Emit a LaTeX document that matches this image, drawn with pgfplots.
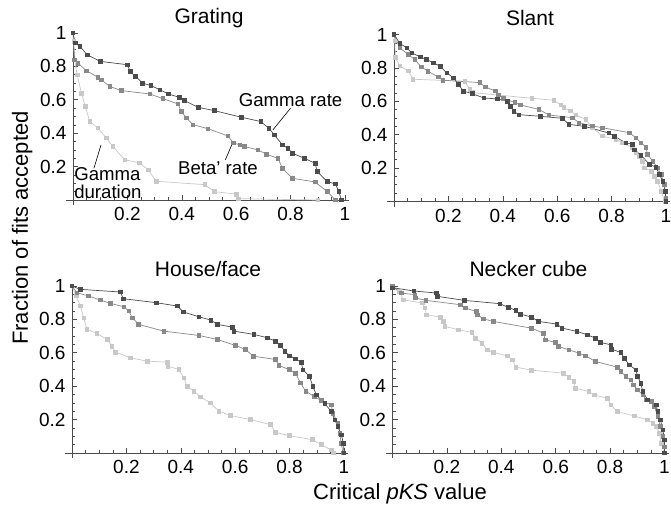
\documentclass[border=0pt]{standalone}
\usepackage{pgfplots}
\pgfplotsset{compat=1.18}
\usepackage{fontspec}
\setmainfont{Liberation Sans}
\definecolor{clrdark}{HTML}{4C4C4C}
\definecolor{clrmid}{HTML}{898989}
\definecolor{clrlight}{HTML}{C8C8C8}
\pgfplotsset{
  panel/.style={
    axis lines=middle,
    axis line style={-, black!70, line width=0.7pt},
    x=272pt, y=167pt,
    xmin=-0.025, xmax=1.015, ymin=-0.03, ymax=1.0,
    xtick={0.2,0.4,0.6,0.8,1}, ytick={0.2,0.4,0.6,0.8,1},
    minor xtick={0.05,0.1,0.15,0.25,0.3,0.35,0.45,0.5,0.55,0.65,0.7,0.75,0.85,0.9,0.95},
    minor ytick={0.05,0.1,0.15,0.25,0.3,0.35,0.45,0.5,0.55,0.65,0.7,0.75,0.85,0.9,0.95},
    major tick length=5pt, minor tick length=3pt,
    tick align=inside,
    tick style={black!70, line width=0.6pt},
    /pgf/number format/assume math mode=true,
    tick label style={font=\fontsize{19}{22}\selectfont},
    xticklabel style={anchor=north, yshift=-1pt},
    yticklabel style={anchor=east, xshift=0pt},
    clip=false,
    anchor=origin,
  },
  gd/.style={color=clrdark, line width=0.7pt, mark=square*, mark size=1.8pt, mark options={solid}},
  gm/.style={color=clrmid, line width=0.7pt, mark=square*, mark size=1.8pt, mark options={solid}},
  gl/.style={color=clrlight, line width=0.7pt, mark=square*, mark size=1.8pt, mark options={solid}},
}
\tikzset{
  ttl/.style={anchor=base, yshift=9pt, font=\fontsize{21}{24}\selectfont},
  ann/.style={font=\fontsize{18.6}{17.5}\selectfont},
}
\begin{document}
\fontsize{19}{22}\selectfont
\begin{tikzpicture}
\path[use as bounding box] (0pt,0pt) rectangle (671pt,505pt);

% ---------------- Grating ----------------
\begin{axis}[panel, at={(73pt,305pt)}]
\addplot[gl] coordinates {(0,1) (0.003,0.95) (0.006,0.84) (0.015,0.75) (0.031,0.64) (0.045,0.56) (0.062,0.47) (0.092,0.431) (0.122,0.371) (0.147,0.32) (0.19,0.241) (0.245,0.222) (0.276,0.181) (0.306,0.112) (0.484,0.092) (0.52,0.05) (0.60,0.035) (0.607,0.008) (0.90,0)};
\addplot[gm] coordinates {(0,1) (0.006,0.84) (0.018,0.82) (0.049,0.774) (0.092,0.735) (0.104,0.72) (0.135,0.68) (0.178,0.655) (0.282,0.635) (0.331,0.607) (0.386,0.575) (0.398,0.531) (0.417,0.491) (0.441,0.451) (0.496,0.427) (0.57,0.383) (0.589,0.343) (0.613,0.33) (0.63,0.32) (0.68,0.30) (0.71,0.275) (0.753,0.25) (0.77,0.19) (0.807,0.13) (0.89,0.108) (0.935,0.05) (0.965,0)};
\addplot[gd] coordinates {(0,1) (0.008,0.94) (0.025,0.92) (0.052,0.87) (0.10,0.83) (0.20,0.81) (0.21,0.77) (0.23,0.74) (0.256,0.70) (0.286,0.685) (0.32,0.66) (0.35,0.635) (0.39,0.615) (0.41,0.595) (0.46,0.555) (0.52,0.535) (0.62,0.495) (0.69,0.47) (0.72,0.43) (0.74,0.39) (0.77,0.33) (0.79,0.31) (0.807,0.28) (0.85,0.25) (0.89,0.22) (0.898,0.17) (0.935,0.11) (0.965,0.096) (0.977,0.05) (0.987,0)};
\node[ttl] at (axis cs:0.5,1) {Grating};
\node[ann] at (axis cs:0.80,0.60) {Gamma rate};
\draw[black, line width=0.6pt] (axis cs:0.80,0.55) -- (axis cs:0.735,0.42);
\node[ann] at (axis cs:0.533,0.188) {Beta' rate};
\draw[black, line width=0.6pt] (axis cs:0.56,0.24) -- (axis cs:0.585,0.335);
\node[ann, anchor=west, align=left, inner sep=0pt] at (axis cs:0.004,0.10) {Gamma\\duration};
\draw[black, line width=0.6pt] (axis cs:0.077,0.19) -- (axis cs:0.103,0.33);
\end{axis}

% ---------------- Slant ----------------
\begin{axis}[panel, at={(394pt,303.5pt)}]
\addplot[gl] coordinates {(0,1) (0.003,0.962) (0.005,0.862) (0.021,0.812) (0.052,0.782) (0.07,0.732) (0.26,0.72) (0.279,0.672) (0.29,0.652) (0.507,0.618) (0.588,0.606) (0.613,0.578) (0.625,0.562) (0.649,0.542) (0.668,0.518) (0.705,0.492) (0.729,0.442) (0.766,0.392) (0.815,0.372) (0.84,0.352) (0.877,0.322) (0.889,0.292) (0.901,0.272) (0.914,0.242) (0.92,0.202) (0.945,0.182) (0.957,0.152) (0.969,0.122) (0.982,0.062) (0.995,0)};
\addplot[gm] coordinates {(0,1) (0.021,0.92) (0.052,0.88) (0.076,0.85) (0.10,0.806) (0.125,0.78) (0.162,0.746) (0.18,0.726) (0.316,0.712) (0.335,0.686) (0.372,0.662) (0.384,0.638) (0.402,0.618) (0.445,0.592) (0.464,0.578) (0.532,0.552) (0.569,0.518) (0.656,0.502) (0.68,0.472) (0.729,0.452) (0.766,0.442) (0.865,0.412) (0.889,0.382) (0.908,0.352) (0.926,0.326) (0.932,0.282) (0.951,0.242) (0.969,0.202) (0.982,0.162) (0.994,0.102) (1.0,0.02) (1.0,0)};
\addplot[gd] coordinates {(0,1) (0.022,0.946) (0.047,0.92) (0.065,0.89) (0.096,0.866) (0.12,0.85) (0.145,0.83) (0.17,0.81) (0.194,0.77) (0.219,0.74) (0.237,0.70) (0.256,0.66) (0.287,0.646) (0.33,0.62) (0.38,0.614) (0.416,0.60) (0.428,0.57) (0.44,0.54) (0.459,0.52) (0.539,0.51) (0.619,0.498) (0.643,0.462) (0.70,0.45) (0.79,0.41) (0.81,0.39) (0.852,0.352) (0.877,0.342) (0.883,0.31) (0.908,0.278) (0.939,0.222) (0.963,0.206) (0.976,0.162) (0.988,0.122) (0.997,0.062) (1.0,0)};
\node[ttl] at (axis cs:0.5,1) {Slant};
\end{axis}

% ---------------- House/face ----------------
\begin{axis}[panel, at={(72pt,52pt)}]
\addplot[gl] coordinates {(0,1) (0.015,0.94) (0.031,0.88) (0.043,0.81) (0.055,0.74) (0.092,0.716) (0.129,0.68) (0.147,0.64) (0.16,0.604) (0.215,0.57) (0.276,0.55) (0.35,0.544) (0.352,0.52) (0.393,0.50) (0.411,0.45) (0.423,0.40) (0.448,0.37) (0.472,0.336) (0.509,0.30) (0.54,0.25) (0.583,0.224) (0.656,0.20) (0.73,0.17) (0.748,0.124) (0.798,0.104) (0.883,0.08) (0.916,0.05) (0.953,0.018) (0.96,0)};
\addplot[gm] coordinates {(0,1) (0.018,0.96) (0.061,0.94) (0.104,0.916) (0.141,0.896) (0.19,0.876) (0.209,0.85) (0.221,0.81) (0.245,0.77) (0.337,0.73) (0.466,0.704) (0.534,0.68) (0.601,0.644) (0.638,0.62) (0.666,0.58) (0.748,0.56) (0.76,0.524) (0.798,0.50) (0.822,0.476) (0.84,0.42) (0.859,0.37) (0.891,0.338) (0.916,0.314) (0.953,0.288) (0.959,0.238) (0.978,0.178) (0.984,0.118) (0.99,0.058) (0.996,0)};
\addplot[gd] coordinates {(0,1) (0.03,0.98) (0.178,0.964) (0.188,0.924) (0.31,0.90) (0.387,0.88) (0.41,0.844) (0.466,0.816) (0.51,0.796) (0.534,0.77) (0.589,0.754) (0.595,0.73) (0.669,0.71) (0.718,0.69) (0.748,0.67) (0.767,0.644) (0.782,0.61) (0.80,0.582) (0.822,0.564) (0.843,0.542) (0.849,0.498) (0.873,0.458) (0.886,0.398) (0.898,0.348) (0.929,0.298) (0.953,0.248) (0.966,0.198) (0.978,0.158) (0.99,0.108) (0.998,0.058) (1.0,0)};
\node[ttl] at (axis cs:0.5,1) {House/face};
\end{axis}

% ---------------- Necker cube ----------------
\begin{axis}[panel, at={(392.5pt,52pt)}]
\addplot[gl] coordinates {(0,0.988) (0.026,0.968) (0.039,0.918) (0.11,0.898) (0.119,0.868) (0.125,0.828) (0.175,0.814) (0.187,0.788) (0.193,0.758) (0.243,0.738) (0.292,0.722) (0.305,0.688) (0.329,0.658) (0.348,0.618) (0.37,0.602) (0.422,0.582) (0.441,0.558) (0.453,0.514) (0.51,0.496) (0.629,0.478) (0.648,0.452) (0.666,0.428) (0.672,0.388) (0.722,0.368) (0.741,0.348) (0.79,0.328) (0.802,0.288) (0.827,0.248) (0.889,0.222) (0.938,0.198) (0.957,0.178) (0.969,0.158) (0.982,0.118) (0.988,0.058) (0.998,0)};
\addplot[gm] coordinates {(0,0.998) (0.032,0.958) (0.082,0.948) (0.085,0.928) (0.123,0.914) (0.249,0.888) (0.267,0.868) (0.308,0.848) (0.313,0.828) (0.333,0.804) (0.37,0.788) (0.51,0.748) (0.555,0.718) (0.561,0.678) (0.598,0.662) (0.61,0.638) (0.648,0.618) (0.685,0.598) (0.709,0.582) (0.746,0.548) (0.827,0.514) (0.839,0.488) (0.858,0.458) (0.876,0.438) (0.886,0.408) (0.901,0.378) (0.92,0.348) (0.932,0.318) (0.951,0.308) (0.963,0.278) (0.975,0.218) (0.985,0.158) (0.994,0.098) (1.0,0.038) (1.0,0)};
\addplot[gd] coordinates {(0,0.99) (0.078,0.97) (0.162,0.958) (0.165,0.938) (0.264,0.914) (0.395,0.894) (0.425,0.872) (0.453,0.854) (0.469,0.832) (0.511,0.814) (0.536,0.788) (0.604,0.772) (0.623,0.748) (0.678,0.728) (0.716,0.708) (0.746,0.688) (0.765,0.662) (0.802,0.648) (0.805,0.622) (0.839,0.602) (0.852,0.568) (0.87,0.528) (0.895,0.498) (0.901,0.458) (0.913,0.418) (0.92,0.368) (0.938,0.318) (0.969,0.288) (0.975,0.248) (0.985,0.198) (0.994,0.138) (1.0,0.078) (1.0,0)};
\node[ttl] at (axis cs:0.5,1) {Necker cube};
\end{axis}

\node[rotate=90, anchor=base, font=\fontsize{22}{26}\selectfont] at (28pt,277pt) {Fraction of fits accepted};
\node[anchor=base, font=\fontsize{22}{26}\selectfont] at (400pt,5pt) {Critical \textit{pKS} value};
\end{tikzpicture}
\end{document}
